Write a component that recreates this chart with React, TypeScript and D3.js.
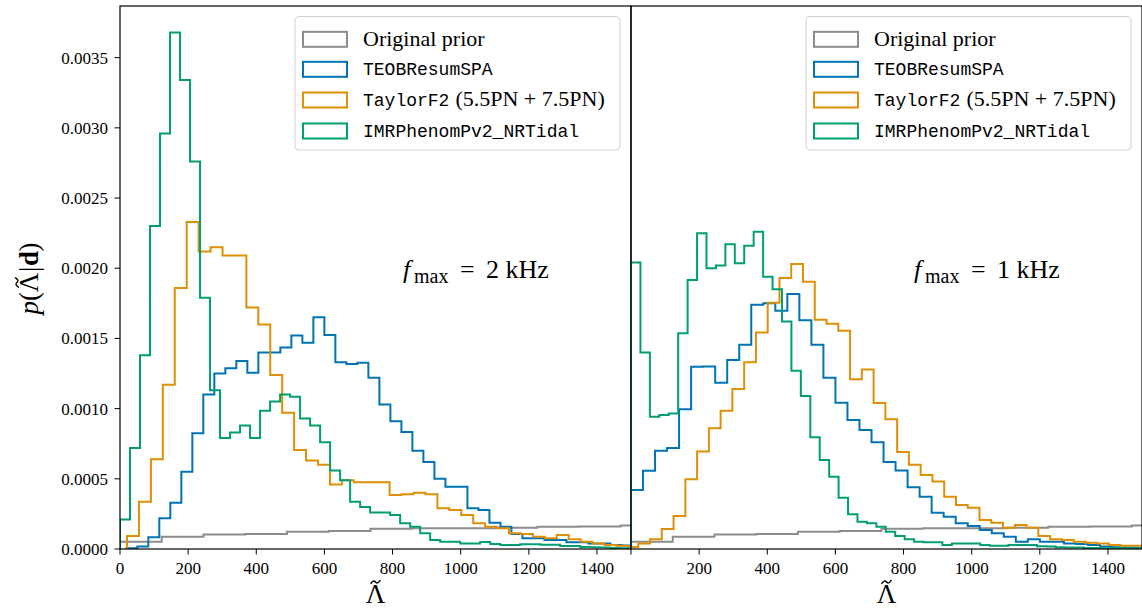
import React from "react";
import * as d3 from "d3";

// ---------- data (density values in units of 1e-4) ----------
const VALUE_UNIT = 1e-4;
const LAMBDA_MAX = 1500;
const DENSITY_MAX = 0.003868;

const yTicks = [0, 0.0005, 0.001, 0.0015, 0.002, 0.0025, 0.003, 0.0035];
const xTicksLeft = [0, 200, 400, 600, 800, 1000, 1200, 1400];
const xTicksRight = [200, 400, 600, 800, 1000, 1200, 1400];

const seriesNames = ["Original prior", "TEOBResumSPA", "TaylorF2", "IMRPhenomPv2_NRTidal"];
const seriesColors = ["#8c8c8c", "#0173b2", "#de8f05", "#029e73"];
const panelLabels = ["2 kHz", "1 kHz"];

// original prior (same in both panels)
const priorStart = 0;
const priorWidth = 122.5;
const priorValues = [0.52, 0.88, 1.03, 1.07, 1.23, 1.28, 1.45, 1.47, 1.48, 1.52, 1.58, 1.6, 1.68];

// f_max = 2 kHz panel
const teob2Start = 18.5;
const teob2Width = 32.3;
const teob2Values = [0.05, 0.17, 0.83, 2.19, 3.3, 5.5, 8.24, 11.0, 12.5, 12.87, 13.4, 12.56, 14.0, 14.0, 14.35, 15.2, 14.7, 16.5, 15.24, 13.3, 13.18, 13.27, 12.2, 10.3, 9.1, 8.33, 7.0, 6.2, 5.0, 4.44, 4.44, 2.9, 2.78, 1.87, 1.59, 1.07, 0.76, 0.76, 0.64, 0.64, 0.48, 0.48, 0.4, 0.4, 0.28, 0.25, 0.2];

const tf2_2Start = 20.6;
const tf2_2Width = 35.04;
const tf2_2Values = [0.93, 3.37, 6.4, 11.7, 18.6, 23.3, 21.2, 21.5, 20.9, 20.9, 17.2, 16.0, 12.4, 9.7, 7.05, 6.3, 6.0, 4.6, 4.9, 4.75, 4.75, 4.75, 3.85, 3.9, 4.0, 3.9, 2.9, 2.78, 2.42, 1.83, 1.59, 1.47, 1.12, 1.07, 0.88, 0.76, 1.0, 0.69, 0.52, 0.4, 0.28, 0.24, 0.2, 0.15];

const imr2Start = 0;
const imr2Width = 29.37;
const imr2Values = [2.1, 7.2, 13.8, 23.0, 29.6, 36.8, 33.4, 27.6, 17.9, 11.3, 7.9, 8.3, 8.8, 7.9, 9.85, 10.5, 11.0, 10.85, 9.3, 8.8, 7.6, 5.6, 4.9, 3.37, 3.0, 2.6, 2.6, 2.42, 1.83, 1.59, 1.12, 0.64, 0.52, 0.52, 0.4, 0.4, 0.5, 0.35, 0.28, 0.28, 0.33, 0.33, 0.3, 0.3, 0.22, 0.22, 0.15, 0.12, 0.1, 0.08, 0.06];

// f_max = 1 kHz panel
const teob1Start = 0;
const teob1Width = 35.3;
const teob1Values = [4.2, 5.58, 7.0, 7.2, 9.95, 12.98, 13.0, 11.85, 13.46, 14.55, 17.4, 17.5, 16.97, 18.16, 16.3, 14.55, 12.2, 10.42, 9.19, 8.48, 7.6, 6.2, 5.6, 4.39, 3.73, 2.59, 2.3, 1.83, 1.64, 1.35, 1.12, 0.88, 0.52, 0.69, 0.52, 0.52, 0.4, 0.35, 0.28, 0.17, 0.12, 0.1, 0.08];

const tf2_1Start = -13.2;
const tf2_1Width = 34.54;
const tf2_1Values = [0.15, 0.4, 0.69, 1.42, 2.35, 4.96, 6.95, 8.6, 9.84, 11.4, 13.3, 15.43, 17.55, 19.3, 20.3, 19.04, 16.33, 16.05, 15.55, 12.1, 12.78, 10.4, 9.24, 6.91, 6.0, 5.27, 4.8, 3.73, 3.13, 2.94, 2.07, 1.87, 1.52, 1.71, 1.52, 0.93, 0.69, 0.64, 0.52, 0.45, 0.4, 0.28, 0.24, 0.24, 0.2];

const imr1Start = 0;
const imr1Width = 27.7;
const imr1Values = [20.4, 14.0, 9.42, 9.54, 9.66, 15.36, 19.16, 22.5, 20.0, 20.2, 21.7, 20.35, 21.6, 22.6, 19.4, 18.5, 16.2, 12.7, 10.9, 7.96, 6.34, 5.15, 3.65, 2.47, 1.95, 1.83, 1.59, 1.23, 0.93, 0.69, 0.52, 0.48, 0.48, 0.28, 0.4, 0.4, 0.4, 0.28, 0.24, 0.24, 0.28, 0.28, 0.28, 0.2, 0.17, 0.12, 0.1, 0.1, 0.08, 0.08, 0.06, 0.05, 0.05, 0.04, 0.04];

// ---------- layout ----------
const W = 1142;
const H = 608;
const TOP = 6;
const BOTTOM = 549;
const PANEL_X = [
  [120, 631],
  [631, 1142],
];

type Hist = { start: number; width: number; values: number[] };

const panels: { hists: Hist[]; xTicks: number[]; xLabels: number[] }[] = [
  {
    hists: [
      { start: priorStart, width: priorWidth, values: priorValues },
      { start: teob2Start, width: teob2Width, values: teob2Values },
      { start: tf2_2Start, width: tf2_2Width, values: tf2_2Values },
      { start: imr2Start, width: imr2Width, values: imr2Values },
    ],
    xTicks: xTicksLeft,
    xLabels: xTicksLeft,
  },
  {
    hists: [
      { start: priorStart, width: priorWidth, values: priorValues },
      { start: teob1Start, width: teob1Width, values: teob1Values },
      { start: tf2_1Start, width: tf2_1Width, values: tf2_1Values },
      { start: imr1Start, width: imr1Width, values: imr1Values },
    ],
    xTicks: [0, ...xTicksRight],
    xLabels: xTicksRight,
  },
];

const SERIF = "'Liberation Serif', 'Times New Roman', serif";
const MONO = "'Liberation Mono', 'DejaVu Sans Mono', monospace";

const y = d3.scaleLinear().domain([0, DENSITY_MAX]).range([BOTTOM, TOP]);

function stepPath(h: Hist, x: d3.ScaleLinear<number, number>): string {
  const pts: [number, number][] = [[h.start, 0]];
  h.values.forEach((v, i) => {
    const a = h.start + i * h.width;
    const b = a + h.width;
    pts.push([a, v * VALUE_UNIT]);
    pts.push([b, v * VALUE_UNIT]);
  });
  pts.push([h.start + h.values.length * h.width, 0]);
  const line = d3
    .line<[number, number]>()
    .x((d) => x(d[0]))
    .y((d) => y(d[1]));
  return line(pts) || "";
}

function Legend({ x0 }: { x0: number }) {
  const rows = [39.3, 69.3, 100, 131];
  return (
    <g>
      <rect x={x0} y={16.5} width={325} height={133.5} rx={4} fill="white" fillOpacity={0.85} stroke="#d0d0d0" strokeWidth={1} />
      {seriesNames.map((name, i) => (
        <g key={name}>
          <rect x={x0 + 8} y={rows[i] - 7.5} width={44} height={15} fill="none" stroke={seriesColors[i]} strokeWidth={2} />
          {i === 0 ? (
            <text x={x0 + 68} y={rows[i] + 7} fontFamily={SERIF} fontSize={22}>
              {name}
            </text>
          ) : i === 2 ? (
            <text x={x0 + 68} y={rows[i] + 6} fontFamily={SERIF} fontSize={22}>
              <tspan fontFamily={MONO} fontSize={18}>
                {name}
              </tspan>
              <tspan dx={6}>(5.5PN + 7.5PN)</tspan>
            </text>
          ) : (
            <text x={x0 + 68} y={rows[i] + 6} fontFamily={MONO} fontSize={18}>
              {name}
            </text>
          )}
        </g>
      ))}
    </g>
  );
}

// Λ with a tilde accent drawn above it, centred at (cx, baseline)
function LambdaTilde({ cx, baseline, size }: { cx: number; baseline: number; size: number }) {
  const w = size * 0.34;
  const ty = baseline - size * 0.78;
  return (
    <g>
      <text x={cx} y={baseline} textAnchor="middle" fontFamily={SERIF} fontSize={size}>
        Λ
      </text>
      <path
        d={`M${cx - w / 2},${ty + 1.5} Q${cx - w / 4},${ty - 2.5} ${cx},${ty} T${cx + w / 2},${ty - 1.5}`}
        fill="none"
        stroke="black"
        strokeWidth={1.4}
        strokeLinecap="round"
      />
    </g>
  );
}

export default function App() {
  const ySize = 27;
  return (
    <svg
      width={W}
      height={H}
      viewBox={`0 0 ${W} ${H}`}
      style={{ position: "absolute", left: 0, top: 0, background: "white" }}
    >
      <rect x={0} y={0} width={W} height={H} fill="white" />
      <defs>
        {PANEL_X.map(([l, r], pi) => (
          <clipPath id={`clip${pi}`} key={pi}>
            <rect x={l} y={TOP} width={r - l} height={BOTTOM - TOP} />
          </clipPath>
        ))}
      </defs>
      {panels.map((p, pi) => {
        const [l, r] = PANEL_X[pi];
        const x = d3.scaleLinear().domain([0, LAMBDA_MAX]).range([l, r]);
        return (
          <g key={pi}>
            <g clipPath={`url(#clip${pi})`}>
              {p.hists.map((h, si) => (
                <path
                  key={si}
                  d={stepPath(h, x)}
                  fill="none"
                  stroke={seriesColors[si]}
                  strokeWidth={2}
                  strokeLinejoin="miter"
                />
              ))}
            </g>
            {/* x ticks */}
            {p.xTicks.map((t) => (
              <line key={`xt${t}`} x1={x(t)} x2={x(t)} y1={BOTTOM} y2={BOTTOM + 5.5} stroke="black" strokeWidth={1} />
            ))}
            {p.xLabels.map((t) => (
              <text key={`xl${t}`} x={x(t)} y={574} textAnchor="middle" fontFamily={SERIF} fontSize={17}>
                {t}
              </text>
            ))}
            <LambdaTilde cx={(l + r) / 2} baseline={603} size={27} />
            {/* annotation */}
            <g fontFamily={SERIF} fontSize={26}>
              <text x={l + 283} y={278} fontStyle="italic">
                f
              </text>
              <text x={l + 294} y={283} fontSize={20}>
                max
              </text>
              <text x={l + 340} y={278}>
                =
              </text>
              <text x={l + 366} y={278} style={{ whiteSpace: "pre" }}>
                {panelLabels[pi]}
              </text>
            </g>
            <Legend x0={l + 175} />
            {/* frame */}
            <rect x={l} y={TOP} width={r - l} height={BOTTOM - TOP} fill="none" stroke="black" strokeWidth={1.2} />
          </g>
        );
      })}
      {/* y ticks */}
      {yTicks.map((t) => (
        <g key={`yt${t}`}>
          <line x1={114.5} x2={120} y1={y(t)} y2={y(t)} stroke="black" strokeWidth={1} />
          <text x={108} y={y(t)} dy="0.35em" textAnchor="end" fontFamily={SERIF} fontSize={17}>
            {t.toFixed(4)}
          </text>
        </g>
      ))}
      {/* y axis label: p(Λ̃|d) */}
      <g transform={`translate(38,${(TOP + BOTTOM) / 2}) rotate(-90)`} fontFamily={SERIF} fontSize={ySize}>
        <text x={-37} y={0} fontStyle="italic">
          p
        </text>
        <text x={-23.5} y={0}>
          (
        </text>
        <LambdaTilde cx={-5} baseline={0} size={ySize} />
        <text x={5.5} y={0}>
          |
        </text>
        <text x={11.5} y={0} fontWeight="bold">
          d
        </text>
        <text x={26} y={0}>
          )
        </text>
      </g>
    </svg>
  );
}
